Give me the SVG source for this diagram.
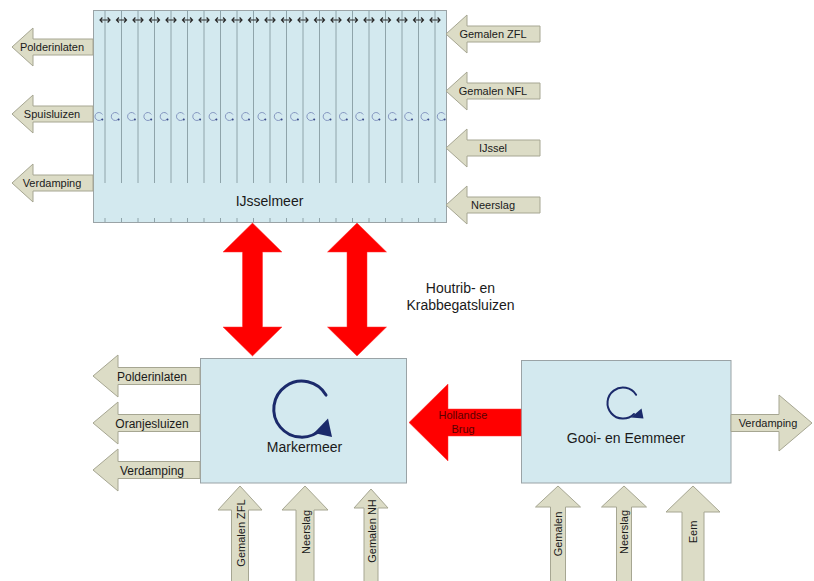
<svg xmlns="http://www.w3.org/2000/svg" width="814" height="581" viewBox="0 0 814 581">
<style>
.box{fill:#d3e9ef;stroke:#9aa3a6;stroke-width:1}
.flow{fill:#dcdcc6;stroke:#a6a692;stroke-width:1}
.red{fill:#ff0000;stroke:#ff3030;stroke-width:0.5}
.t{font-family:"Liberation Sans",Arial,sans-serif;fill:#1a1a1a}
.m{text-anchor:middle}
.s11{font-size:11px}
.s12{font-size:12px}
.s14{font-size:14px}
.col{stroke:#8fa4aa;stroke-width:1}
.big{fill:none;stroke:#1b2a6b;stroke-linecap:round}
</style>
<defs>
<g id="dbl" fill="none" stroke="#2a2a2a" stroke-width="1.2"><path d="M-5,0H5M-2.6,-2.5L-5,0L-2.6,2.5M2.6,-2.5L5,0L2.6,2.5"/></g>
<g id="sp"><path d="M3.46,-2A4,4 0 1 0 3.06,2.57" fill="none" stroke="#8496c0" stroke-width="1"/><circle cx="3.3" cy="2.9" r="1" fill="#3a4a8a"/></g>
</defs>

<g id="ijsselmeer">
<rect class="box" x="93.5" y="10.5" width="353" height="212"/>
<g class="col">
<path d="M105,10V183M121.5,10V183M138,10V183M154.5,10V183M171,10V183M187.5,10V183M204,10V183M220.5,10V183M237,10V183M253.5,10V183M270,10V183M286.5,10V183M303,10V183M319.5,10V183M336,10V183M352.5,10V183M369,10V183M385.5,10V183M402,10V183M418.5,10V183M435,10V183"/>
<path d="M105,218V222M121.5,218V222M138,218V222M154.5,218V222M171,218V222M187.5,218V222M204,218V222M220.5,218V222M237,218V222M253.5,218V222M270,218V222M286.5,218V222M303,218V222M319.5,218V222M336,218V222M352.5,218V222M369,218V222M385.5,218V222M402,218V222M418.5,218V222M435,218V222"/>
</g>
<g>
<use href="#dbl" x="105" y="20"/><use href="#dbl" x="121.5" y="20"/><use href="#dbl" x="138" y="20"/><use href="#dbl" x="154.5" y="20"/><use href="#dbl" x="171" y="20"/><use href="#dbl" x="187.5" y="20"/><use href="#dbl" x="204" y="20"/><use href="#dbl" x="220.5" y="20"/><use href="#dbl" x="237" y="20"/><use href="#dbl" x="253.5" y="20"/><use href="#dbl" x="270" y="20"/><use href="#dbl" x="286.5" y="20"/><use href="#dbl" x="303" y="20"/><use href="#dbl" x="319.5" y="20"/><use href="#dbl" x="336" y="20"/><use href="#dbl" x="352.5" y="20"/><use href="#dbl" x="369" y="20"/><use href="#dbl" x="385.5" y="20"/><use href="#dbl" x="402" y="20"/><use href="#dbl" x="418.5" y="20"/><use href="#dbl" x="435" y="20"/>
</g>
<g>
<use href="#sp" x="99" y="116.5"/><use href="#sp" x="115.3" y="116.5"/><use href="#sp" x="131.6" y="116.5"/><use href="#sp" x="147.9" y="116.5"/><use href="#sp" x="164.2" y="116.5"/><use href="#sp" x="180.5" y="116.5"/><use href="#sp" x="196.8" y="116.5"/><use href="#sp" x="213.1" y="116.5"/><use href="#sp" x="229.4" y="116.5"/><use href="#sp" x="245.7" y="116.5"/><use href="#sp" x="262" y="116.5"/><use href="#sp" x="278.3" y="116.5"/><use href="#sp" x="294.6" y="116.5"/><use href="#sp" x="310.9" y="116.5"/><use href="#sp" x="327.2" y="116.5"/><use href="#sp" x="343.5" y="116.5"/><use href="#sp" x="359.8" y="116.5"/><use href="#sp" x="376.1" y="116.5"/><use href="#sp" x="392.4" y="116.5"/><use href="#sp" x="408.7" y="116.5"/><use href="#sp" x="425" y="116.5"/><use href="#sp" x="441.3" y="116.5"/>
</g>
<text class="t m s14" x="269.5" y="206">IJsselmeer</text>
</g>

<g id="ijssel-out-polderinlaten"><polygon class="flow" points="12,47 33,28 33,39 93,39 93,55 33,55 33,66"/><text class="t m s11" x="52" y="51">Polderinlaten</text></g>
<g id="ijssel-out-spuisluizen"><polygon class="flow" points="12,114 33,95 33,106 93,106 93,122 33,122 33,133"/><text class="t m s11" x="52" y="118">Spuisluizen</text></g>
<g id="ijssel-out-verdamping"><polygon class="flow" points="12,183 33,164 33,175 93,175 93,191 33,191 33,202"/><text class="t m s11" x="52" y="187">Verdamping</text></g>

<g id="ijssel-in-gemalen-zfl"><polygon class="flow" points="446,34 467,15 467,26 540,26 540,42 467,42 467,53"/><text class="t m s11" x="493" y="38">Gemalen ZFL</text></g>
<g id="ijssel-in-gemalen-nfl"><polygon class="flow" points="446,91 467,72 467,83 540,83 540,99 467,99 467,110"/><text class="t m s11" x="493" y="95">Gemalen NFL</text></g>
<g id="ijssel-in-ijssel"><polygon class="flow" points="446,148 467,129 467,140 540,140 540,156 467,156 467,167"/><text class="t m s11" x="493" y="152">IJssel</text></g>
<g id="ijssel-in-neerslag"><polygon class="flow" points="446,205 467,186 467,197 540,197 540,213 467,213 467,224"/><text class="t m s11" x="493" y="209">Neerslag</text></g>

<g id="markermeer">
<rect class="box" x="200.5" y="358.5" width="206" height="124.5"/>
<path class="big" stroke-width="3" d="M326,395.1A28,28 0 1 0 321.5,429"/>
<polygon fill="#1b2a6b" points="314,433 328,418.5 332,437"/>
<text class="t m s14" x="304.5" y="452">Markermeer</text>
</g>

<g id="marker-out-polderinlaten"><polygon class="flow" points="93,376 118,355 118,367.5 200,367.5 200,384.5 118,384.5 118,397"/><text class="t m s12" x="152" y="380.5">Polderinlaten</text></g>
<g id="marker-out-oranjesluizen"><polygon class="flow" points="93,423 118,402 118,414.5 200,414.5 200,431.5 118,431.5 118,444"/><text class="t m s12" x="152" y="427.5">Oranjesluizen</text></g>
<g id="marker-out-verdamping"><polygon class="flow" points="93,470 118,449 118,461.5 200,461.5 200,478.5 118,478.5 118,491"/><text class="t m s12" x="152" y="474.5">Verdamping</text></g>

<g id="marker-in-gemalen-zfl"><polygon class="flow" points="240,486 262,510 248.5,510 248.5,582 231.5,582 231.5,510 218,510"/><text class="t m s11" transform="translate(245,533) rotate(-90)">Gemalen ZFL</text></g>
<g id="marker-in-neerslag"><polygon class="flow" points="305,486 328,510 314,510 314,582 296,582 296,510 282,510"/><text class="t m s11" transform="translate(310,532) rotate(-90)">Neerslag</text></g>
<g id="marker-in-gemalen-nh"><polygon class="flow" points="371,489 388,508 378,508 378,582 364,582 364,508 354,508"/><text class="t m s11" transform="translate(375.5,531) rotate(-90)">Gemalen NH</text></g>

<g id="gooimeer">
<rect class="box" x="521.5" y="360.5" width="209.5" height="122.5"/>
<path class="big" stroke-width="2" d="M636.1,394.8A15.5,15.5 0 1 0 634,414"/>
<polygon fill="#1b2a6b" points="631,417.5 641.5,408.5 643.5,418.5"/>
<text class="t m s14" x="626" y="443">Gooi- en Eemmeer</text>
</g>

<g id="gooi-out-verdamping"><polygon class="flow" points="812,423 779,395 779,414.5 731,414.5 731,431.5 779,431.5 779,451"/><text class="t m s11" x="768" y="427">Verdamping</text></g>
<g id="gooi-in-gemalen"><polygon class="flow" points="558,486 580.5,507 565.5,507 565.5,582 550.5,582 550.5,507 535.5,507"/><text class="t m s11" transform="translate(562,534) rotate(-90)">Gemalen</text></g>
<g id="gooi-in-neerslag"><polygon class="flow" points="624,486 646.5,507 631.5,507 631.5,582 616.5,582 616.5,507 601.5,507"/><text class="t m s11" transform="translate(628,532) rotate(-90)">Neerslag</text></g>
<g id="gooi-in-eem"><polygon class="flow" points="693,486 720,512 704,512 704,582 682,582 682,512 666,512"/><text class="t m s11" transform="translate(697,532) rotate(-90)">Eem</text></g>

<g id="connectors">
<polygon class="red" points="252.5,223 282,252 262.5,252 262.5,327 282,327 252.5,356 223,327 242.5,327 242.5,252 223,252"/>
<polygon class="red" points="357,223 386.5,252 367,252 367,327 386.5,327 357,356 327.5,327 347,327 347,252 327.5,252"/>
<text class="t m s14" x="460.5" y="293">Houtrib- en</text>
<text class="t m s14" x="460.5" y="310">Krabbegatsluizen</text>
<polygon class="red" points="409,422.5 448,384 448,409 521,409 521,436 448,436 448,461"/>
<text class="m s11" font-family="Liberation Sans, Arial, sans-serif" fill="#5a0000" x="463" y="419">Hollandse</text>
<text class="m s11" font-family="Liberation Sans, Arial, sans-serif" fill="#5a0000" x="463" y="433">Brug</text>
</g>
</svg>
